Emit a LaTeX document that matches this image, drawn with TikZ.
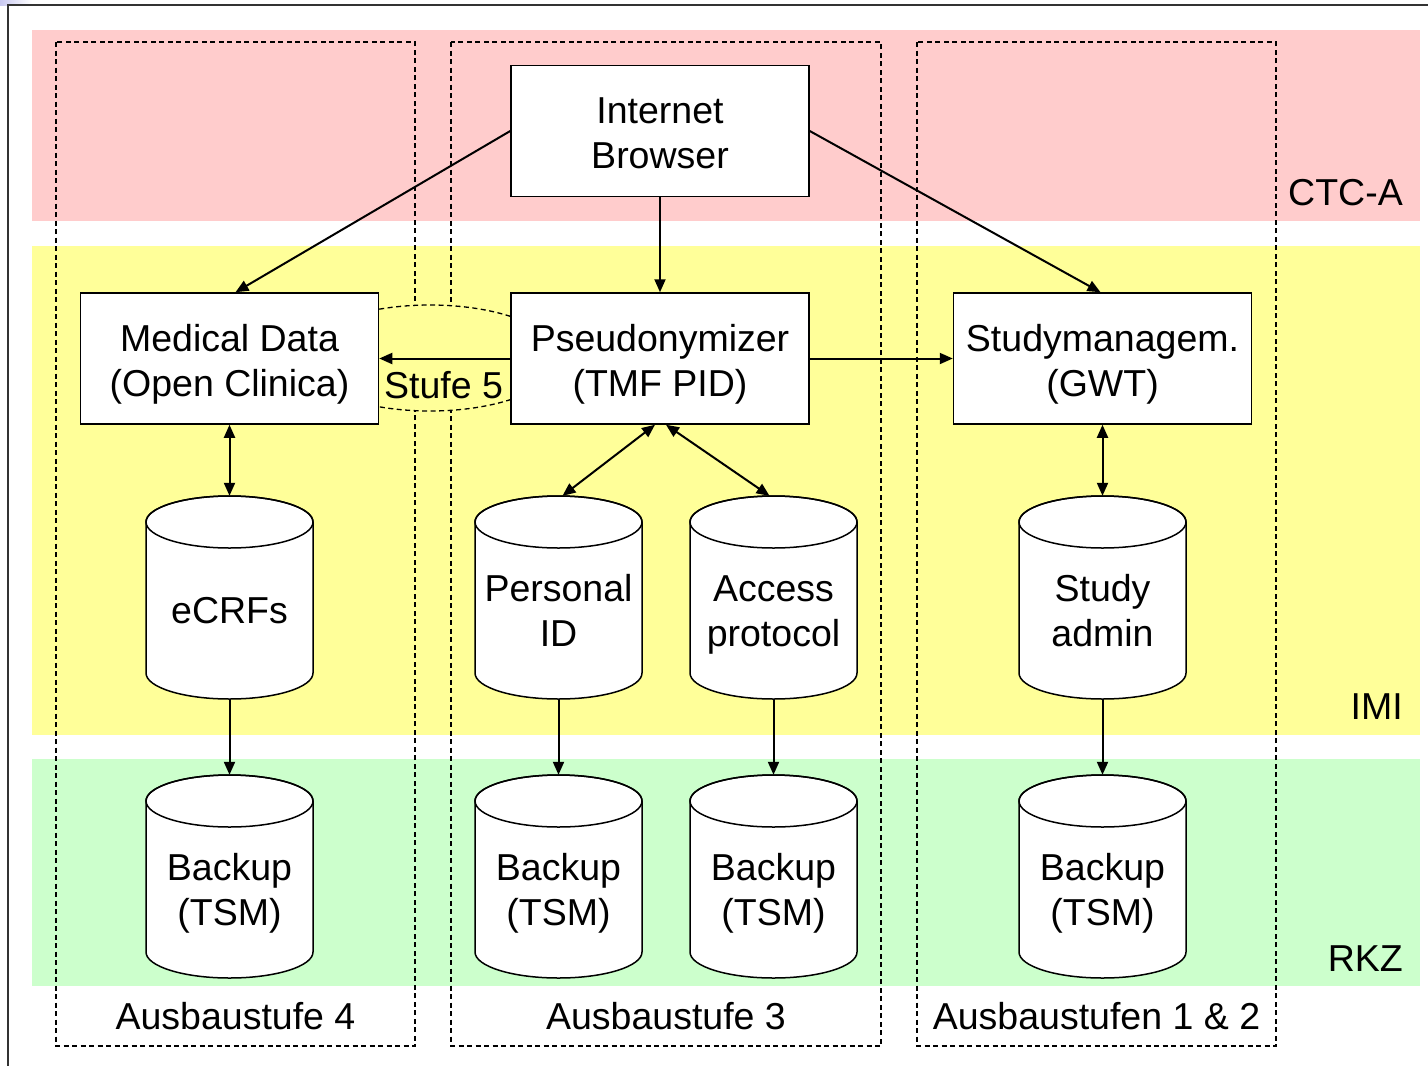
\documentclass[tikz,border=0pt]{standalone}
\usepackage{fontspec}
\setmainfont{Liberation Sans}
\usetikzlibrary{arrows.meta,calc}
\definecolor{bandred}{HTML}{FFCCCC}
\definecolor{bandyellow}{HTML}{FFFF99}
\definecolor{bandgreen}{HTML}{CCFFCC}
\definecolor{framegray}{HTML}{333333}
\definecolor{cornerblue}{HTML}{C8C8F0}
\newcommand\bigfont{\fontsize{37.5}{45}\selectfont}
\newcommand\lnst{\vphantom{(Ag}}
\tikzset{
  box/.style={draw=black, line width=1.5pt, fill=white, minimum width=298pt,
    minimum height=131pt, inner sep=0pt},
  boxtext/.style={align=center, inner sep=0pt, font=\bigfont},
  cylbox/.style={minimum width=167pt, minimum height=203pt, inner sep=0pt},
  cyltext/.style={align=center, inner sep=0pt, font=\bigfont},
  cylline/.style={draw=black, line width=1.5pt, fill=white},
  conn/.style={line width=2pt, -{Triangle[length=13pt,width=11pt]}},
  biconn/.style={line width=2pt, {Triangle[length=13pt,width=11pt]}-{Triangle[length=13pt,width=11pt]}},
  zone/.style={draw=black, line width=1.5pt, dash pattern=on 5pt off 3.5pt},
  lbl/.style={inner sep=0pt, font=\bigfont},
}
\newcommand\dbcyl[4]{%
  \begin{scope}[shift={(#2,#3)}]
    \path[cylline] (-83.5,-75.5) -- (-83.5,75.5)
      arc[start angle=180,end angle=0,x radius=83.5,y radius=26]
      -- (83.5,-75.5)
      arc[start angle=0,end angle=-180,x radius=83.5,y radius=26] -- cycle;
    \draw[line width=1.5pt] (0,-75.5) ellipse[x radius=83.5,y radius=26];
    \node[cylbox] (#1) at (0,0) {};
    \node[cyltext] (#1-t) at (0,16.5) {#4};
  \end{scope}}
\newcommand\procbox[4]{%
  \node[box] (#1) at (#2,#3) {};
  \node[boxtext] (#1-t) at (#2,#3+5.6) {#4};}
\begin{document}
\begin{tikzpicture}[x=1pt,y=-1pt]
\useasboundingbox (0,0) rectangle (1428,1066);
% corner artefact
\shade[left color=cornerblue, right color=white] (0,0) rectangle (32,5);
% bands
\fill[bandred] (32,30) rectangle (1420,221);
\fill[bandyellow] (32,246) rectangle (1420,735);
\fill[bandgreen] (32,759) rectangle (1420,986);
% frame
\draw[line width=2pt, framegray] (8,1066) -- (8,5) -- (1428,5);
% zones
\draw[zone] (56,42) rectangle (415,1046);
\draw[zone] (451,42) rectangle (881,1046);
\draw[zone] (917,42) rectangle (1276,1046);
% Stufe 5 ellipse
\draw[fill=bandyellow, line width=1.3pt, dash pattern=on 5pt off 3.5pt] (430,358) ellipse[x radius=130,y radius=53];
% boxes
\procbox{browser}{660}{131}{\lnst Internet\\\lnst Browser}
\procbox{med}{229.5}{358.5}{\lnst Medical Data\\\lnst (Open Clinica)}
\procbox{pseudo}{660}{358.5}{\lnst Pseudonymizer\\\lnst (TMF PID)}
\procbox{study}{1102.5}{358.5}{\lnst Studymanagem.\\\lnst (GWT)}
% cylinders
\dbcyl{ecrf}{229.5}{597.5}{\lnst eCRFs}
\dbcyl{pid}{558.5}{597.5}{\lnst Personal\\\lnst ID}
\dbcyl{acc}{773.5}{597.5}{\lnst Access\\\lnst protocol}
\dbcyl{sadm}{1102.5}{597.5}{\lnst Study\\\lnst admin}
\dbcyl{bka}{229.5}{876.5}{\lnst Backup\\\lnst (TSM)}
\dbcyl{bkb}{558.5}{876.5}{\lnst Backup\\\lnst (TSM)}
\dbcyl{bkc}{773.5}{876.5}{\lnst Backup\\\lnst (TSM)}
\dbcyl{bkd}{1102.5}{876.5}{\lnst Backup\\\lnst (TSM)}
% connectors
\draw[conn] (browser.west) -- ([xshift=6pt]med.north);
\draw[conn] (browser.south) -- (pseudo.north);
\draw[conn] (browser.east) -- ([xshift=-2pt]study.north);
\draw[conn] (pseudo.west) -- (med.east);
\draw[conn] (pseudo.east) -- (study.west);
\draw[biconn] (med.south) -- (ecrf.north);
\draw[biconn] ([xshift=-5pt]pseudo.south) -- ([xshift=4pt]pid.north);
\draw[biconn] ([xshift=6pt]pseudo.south) -- ([xshift=-4pt]acc.north);
\draw[biconn] (study.south) -- (sadm.north);
\draw[conn] (ecrf.south) -- (bka.north);
\draw[conn] (pid.south) -- (bkb.north);
\draw[conn] (acc.south) -- (bkc.north);
\draw[conn] (sadm.south) -- (bkd.north);
% labels
\node[lbl, anchor=base] (stufe) at (443.5,398) {Stufe 5};
\node[lbl, anchor=base east] (ctca) at (1403,205) {CTC-A};
\node[lbl, anchor=base east] (imi) at (1403,719) {IMI};
\node[lbl, anchor=base east] (rkz) at (1403,971) {RKZ};
\node[lbl, anchor=base] (aus4) at (235.5,1029) {Ausbaustufe 4};
\node[lbl, anchor=base] (aus3) at (666,1029) {Ausbaustufe 3};
\node[lbl, anchor=base] (aus12) at (1096.5,1029) {Ausbaustufen 1 \& 2};
\end{tikzpicture}
\end{document}
